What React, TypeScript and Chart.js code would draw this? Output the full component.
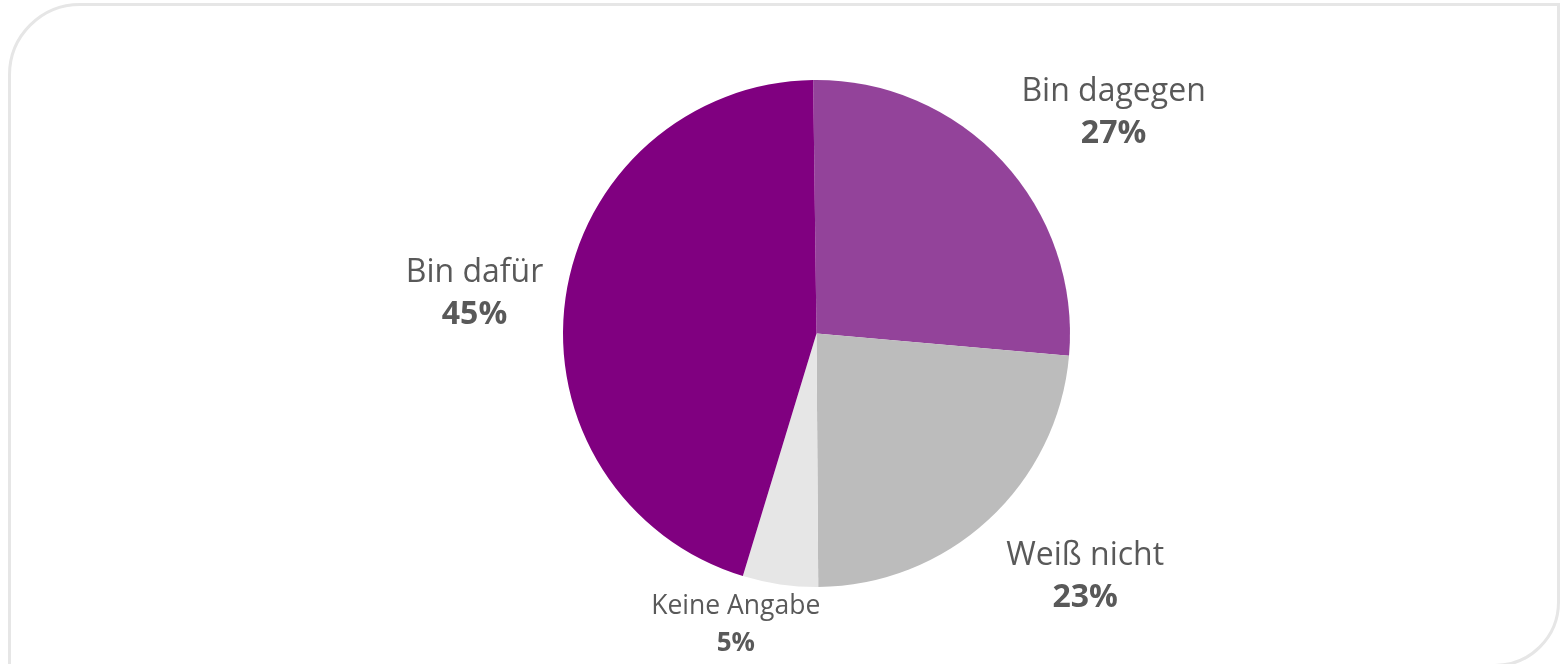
import React, { useEffect, useRef } from "react";
import { Chart, registerables } from "chart.js";

Chart.register(...registerables);

const categories = ["Bin dagegen", "Weiß nicht", "Keine Angabe", "Bin dafür"];
const shares = [26.6, 23.5, 4.8, 45.1];
const percentLabels = ["27%", "23%", "5%", "45%"];
const sliceColors = ["#93439a", "#bcbcbc", "#e6e6e6", "#800080"];

// label placement relative to each slice (offsets from a point 100px outside the arc on its mid-angle)
const labelOffsets = [
  { dx: 38, dy: 8 },
  { dx: 29, dy: -28 },
  { dx: -30, dy: -69 },
  { dx: 8, dy: -2 },
];
const labelSmall = [false, false, true, false];

const outsideLabels = {
  id: "outsideLabels",
  afterDatasetsDraw(chart: any) {
    const ctx = chart.ctx;
    const meta = chart.getDatasetMeta(0);
    ctx.save();
    ctx.fillStyle = "#595959";
    ctx.textAlign = "center";
    ctx.textBaseline = "alphabetic";
    meta.data.forEach((arc: any, i: number) => {
      const { x, y, startAngle, endAngle, outerRadius } = arc.getProps(
        ["x", "y", "startAngle", "endAngle", "outerRadius"],
        true
      );
      const mid = (startAngle + endAngle) / 2;
      const d = outerRadius + 100;
      const px = x + Math.cos(mid) * d + labelOffsets[i].dx;
      const py = y + Math.sin(mid) * d + labelOffsets[i].dy;
      const small = labelSmall[i];
      ctx.font = `${small ? 26.5 : 32}px "Open Sans"`;
      ctx.fillText(categories[i], px, py);
      ctx.font = `bold ${small ? 26 : 32}px "Open Sans"`;
      ctx.fillText(percentLabels[i], px, py + (small ? 37 : 42));
    });
    ctx.restore();
  },
};

export default function App() {
  const canvasRef = useRef<HTMLCanvasElement | null>(null);

  useEffect(() => {
    if (!canvasRef.current) return;
    const chart = new Chart(canvasRef.current, {
      type: "pie",
      data: {
        labels: categories,
        datasets: [
          {
            data: shares,
            backgroundColor: sliceColors,
            borderWidth: 0,
          },
        ],
      },
      options: {
        responsive: false,
        animation: false,
        rotation: -0.75,
        layout: { padding: { top: 80, bottom: 77, left: 68, right: 0 } },
        plugins: {
          legend: { display: false },
          tooltip: { enabled: false },
        },
      },
      plugins: [outsideLabels],
    });
    return () => chart.destroy();
  }, []);

  return (
    <div
      style={{
        position: "fixed",
        left: 0,
        top: 0,
        width: 1565,
        height: 664,
        overflow: "hidden",
        background: "#ffffff",
        fontFamily: '"Open Sans", sans-serif',
      }}
    >
      <div
        style={{
          position: "absolute",
          left: 8,
          top: 3,
          width: 1552,
          height: 664,
          boxSizing: "border-box",
          border: "3px solid #e6e6e6",
          borderTopLeftRadius: 72,
          borderBottomRightRadius: 65,
        }}
      />
      <canvas
        ref={canvasRef}
        width={1565}
        height={664}
        style={{ position: "absolute", left: 0, top: 0, width: 1565, height: 664 }}
      />
    </div>
  );
}
